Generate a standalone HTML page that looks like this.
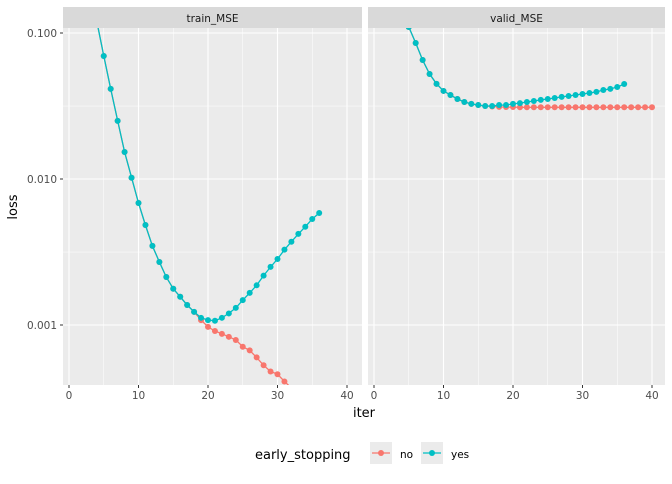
<!DOCTYPE html>
<html><head><meta charset="utf-8"><style>
body{margin:0;background:#fff;font-family:"DejaVu Sans","Liberation Sans",sans-serif}
svg text{font-family:"DejaVu Sans","Liberation Sans",sans-serif}
</style></head><body>
<svg id="c" width="672" height="480" xmlns="http://www.w3.org/2000/svg"></svg>
<script>
const iters = [4,5,6,7,8,9,10,11,12,13,14,15,16,17,18,19,20,21,22,23,24,25,26,27,28,29,30,31,32,33,34,35,36,37,38,39,40];
const trainYes = [0.12,0.0696,0.0414,0.025,0.0153,0.0102,0.00685,0.00484,0.00348,0.0027,0.00213,0.00177,0.00156,0.00137,0.00123,0.00112,0.00108,0.00107,0.00112,0.0012,0.00131,0.00148,0.00166,0.00187,0.00218,0.0025,0.00283,0.00328,0.00372,0.00421,0.00471,0.00532,0.00585];
const trainNo = [0.12,0.0696,0.0414,0.025,0.0153,0.0102,0.00685,0.00484,0.00348,0.0027,0.00213,0.00177,0.00156,0.00137,0.00123,0.00108,0.00097,0.00091,0.00087,0.00083,0.00079,0.00071,0.00067,0.0006,0.00053,0.00048,0.00046,0.00041,0.00037,0.00034,0.00031,0.00028,0.00026,0.00024,0.00022,0.0002,0.00018];
const validYes = [0.16,0.11,0.0854,0.0653,0.0524,0.0448,0.0401,0.0376,0.0353,0.0337,0.0327,0.0321,0.0316,0.0316,0.0321,0.0321,0.0327,0.0331,0.0337,0.0342,0.0348,0.0353,0.0359,0.0365,0.037,0.0376,0.0382,0.0388,0.0395,0.0407,0.0414,0.0427,0.0447];
const validNo = [0.16,0.11,0.0854,0.0653,0.0524,0.0448,0.0401,0.0376,0.0353,0.0337,0.0327,0.0321,0.0316,0.0314,0.0312,0.0311,0.0311,0.031,0.031,0.031,0.031,0.031,0.031,0.031,0.031,0.031,0.031,0.031,0.031,0.031,0.031,0.031,0.031,0.031,0.031,0.031,0.031];
const xTicks = [0,10,20,30,40];
const yTicks = [0.1,0.01,0.001];
const yTickLabels = ["0.100","0.010","0.001"];
const panelNames = ["train_MSE","valid_MSE"];

const NS="http://www.w3.org/2000/svg", svg=document.getElementById('c');
function el(t,a,p){const e=document.createElementNS(NS,t);for(const k in a)e.setAttribute(k,a[k]);(p||svg).appendChild(e);return e;}
const yTop=28,yBot=385;
const yS=v=>33-(Math.log10(v)+1)*146;
const panels=[{x0:63,x1:362,xs:v=>69+v*6.95},{x0:368,x1:665,xs:v=>374+v*6.95}];
const defs=el('defs',{});
panels.forEach((p,i)=>{
  const cp=el('clipPath',{id:'cp'+i},defs);el('rect',{x:p.x0,y:yTop,width:p.x1-p.x0,height:yBot-yTop},cp);
  const strip=el('rect',{x:p.x0,y:7,width:p.x1-p.x0,height:21,fill:'#d9d9d9'});
  
  
  const st=el('text',{x:(p.x0+p.x1)/2,y:22,'text-anchor':'middle','font-size':10.5,fill:'#1a1a1a'});st.textContent=panelNames[i];
  
  
  const bg=el('rect',{x:p.x0,y:yTop,width:p.x1-p.x0,height:yBot-yTop,fill:'#ebebeb'});
  
  
  [5,15,25,35].forEach(v=>el('line',{x1:p.xs(v),x2:p.xs(v),y1:yTop,y2:yBot,stroke:'#fff','stroke-width':0.5}));
  [0.0316,0.00316,0.000316].forEach(v=>{const y=yS(v);if(y>yTop&&y<yBot)el('line',{x1:p.x0,x2:p.x1,y1:y,y2:y,stroke:'#fff','stroke-width':0.5});});
  xTicks.forEach(v=>{el('line',{x1:p.xs(v),x2:p.xs(v),y1:yTop,y2:yBot,stroke:'#fff','stroke-width':1.1});
    el('line',{x1:p.xs(v),x2:p.xs(v),y1:yBot,y2:yBot+3,stroke:'#333'});
    const t=el('text',{x:p.xs(v),y:yBot+14,'text-anchor':'middle','font-size':10.5,fill:'#4d4d4d'});t.textContent=v;
    
    });
  yTicks.forEach(v=>el('line',{x1:p.x0,x2:p.x1,y1:yS(v),y2:yS(v),stroke:'#fff','stroke-width':1.1}));
  const g=el('g',{'clip-path':'url(#cp'+i+')'});
  const ser=i==0?[[trainNo,'#F8766D','no'],[trainYes,'#00BFC4','yes']]:[[validNo,'#F8766D','no'],[validYes,'#00BFC4','yes']];
  ser.forEach(([vals,col,nm])=>{
    const pts=vals.map((v,k)=>p.xs(iters[k]).toFixed(1)+','+yS(v).toFixed(1)).join(' ');
    const pl=el('polyline',{points:pts,fill:'none',stroke:col,'stroke-width':1.3},g);
    
    
    vals.forEach((v,k)=>{if(k<1)return;const c=el('circle',{cx:p.xs(iters[k]),cy:yS(v),r:3,fill:col},g);
      
      });
  });
});
yTicks.forEach((v,k)=>{el('line',{x1:60,x2:63,y1:yS(v),y2:yS(v),stroke:'#333'});
  const t=el('text',{x:57,y:yS(v)+4,'text-anchor':'end','font-size':10.5,fill:'#4d4d4d'});t.textContent=yTickLabels[k];
  
  });
const yt=el('text',{x:0,y:0,transform:'translate(17,207) rotate(-90)','text-anchor':'middle','font-size':13,fill:'#000'});yt.textContent='loss';


const xt=el('text',{x:364,y:417,'text-anchor':'middle','font-size':13,fill:'#000'});xt.textContent='iter';


const lt=el('text',{x:255,y:459,'font-size':13,fill:'#000'});lt.textContent='early_stopping';


[['no','#F8766D',370,400],['yes','#00BFC4',421,451]].forEach(([n,c,kx,tx])=>{
  const g=el('g',{});
  
  
  el('rect',{x:kx,y:442,width:22,height:22,fill:'#ebebeb'},g);
  el('line',{x1:kx+2,x2:kx+20,y1:453,y2:453,stroke:c,'stroke-width':1.3},g);
  el('circle',{cx:kx+11,cy:453,r:3,fill:c},g);
  const t=el('text',{x:tx,y:458,'font-size':10.5,fill:'#000'},g);t.textContent=n;
});
</script>
</body></html>
